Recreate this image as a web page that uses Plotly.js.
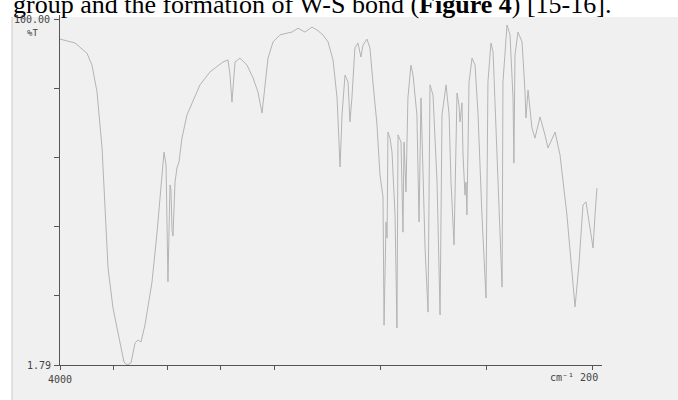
<!DOCTYPE html>
<html>
<head>
<meta charset="utf-8">
<script src="https://cdn.plot.ly/plotly-3.0.1.min.js"></script>
<style>html,body{margin:0;padding:0;background:#fff;}#chart{width:678px;height:400px;}</style>
</head>
<body>
<div id="chart"></div>
<script>
// Wavenumber (cm-1)
const wavenumber = [4000,3860,3748,3701,3654,3607,3579,3551,3505,3439,3402,3374,3364,3336,3299,3271,3243,3206,3140,3093,3047,3028,3009,2991,2972,2963,2953,2944,2925,2907,2888,2860,2813,2738,2692,2598,2477,2430,2411,2393,2383,2364,2318,2252,2196,2150,2112,2084,2056,2009,
1966,1926,1898,1864,1825,1785,1757,1723,1694,1666,1643,1626,1615,1598,1581,1570,1559,1542,1525,1508,1496,1474,1457,1440,1417,1400,1383,1377,1366,1360,1355,1343,1332,1315,1304,1298,1281,1270,1264,1253,1242,1225,1213,1191,1179,1168,1157,1145,1128,1117,1100,1077,1060,1049,1026,1009,998,981,964,953,947,936,930,919,913,908,896,879,862,845,823,800,789,772,760,738,709,704,681,664,647,642,636,619,596,579,574,562,540,523,494,466,449,409,381,342,313,296,274,251,234,223,194,183,172];
// Transmittance (%T)
const transmittance = [94.3,93.2,90.3,86.9,79.3,63.4,46.4,29.3,18.0,7.5,2.6,1.9,1.9,2.4,8.0,8.9,8.3,13.1,25.4,39.5,55.7,62.2,58.6,25.4,52.9,51.5,40.1,38.4,53.7,57.7,59.4,66.2,72.8,78.4,81.3,85.0,87.8,88.4,84.1,76.4,81.3,87.8,88.9,86.9,83.3,79.3,73.3,80.4,88.9,93.5,
95.5,96.0,96.3,97.4,96.3,97.7,96.9,95.5,93.5,88.4,77.6,58.0,72.8,84.1,82.1,70.8,77.6,91.8,93.2,89.2,92.6,94.3,91.8,82.1,69.9,55.7,49.5,13.1,42.4,37.8,67.9,66.2,62.2,44.4,12.3,67.1,65.1,39.5,65.1,50.9,77.6,86.9,84.1,72.8,42.4,77.6,55.7,35.0,16.8,81.3,78.4,53.7,16.0,72.8,81.3,72.8,53.7,35.9,79.0,75.6,70.8,76.2,61.4,50.0,53.7,44.4,82.1,88.9,86.9,72.8,44.4,20.8,82.1,93.2,90.6,63.4,23.9,82.1,98.3,95.5,77.6,59.1,89.8,96.3,93.5,79.3,71.9,79.8,69.1,66.2,72.2,67.1,63.4,67.9,61.4,44.4,28.2,18.3,30.2,47.2,48.1,44.4,35.0,44.4,52.0];

// Axis ticks
const xTicks = [4000,3500,3000,2500,2000,1400,800,200];
const yTicks = [1.79,21.43,41.07,60.72,80.36,100.00];
const yLabelTop = "100.00";
const yLabelBottom = "1.79";
const xLabelLeft = "4000";
const xLabelRight = "cm⁻¹ 200";
const yUnit = "%T";
const headerText = "group and the formation of W-S bond (<b>Figure 4</b>) [15-16].";

// Chart paper uses a change of scale at 2000 cm-1
const SPLIT = 214/532;
function pos(w){
  return w >= 2000 ? (4000 - w)/2000*SPLIT : SPLIT + (2000 - w)/1800*(1 - SPLIT);
}

const mono = {family:'DejaVu Sans Mono, monospace', size:10, color:'#444'};

const trace = {
  x: wavenumber.map(pos),
  y: transmittance,
  type:'scatter', mode:'lines',
  line:{color:'#b4b4b4', width:1},
  hoverinfo:'skip'
};

const layout = {
  width:678, height:400,
  margin:{l:60, r:76, t:15, b:35},
  paper_bgcolor:'#ffffff',
  plot_bgcolor:'rgba(0,0,0,0)',
  showlegend:false,
  xaxis:{
    range:[0, 542/532], showgrid:false, zeroline:false,
    showline:true, linecolor:'#555', linewidth:1,
    ticks:'outside', ticklen:4, tickcolor:'#555', tickwidth:1,
    tickmode:'array', tickvals:xTicks.map(pos), showticklabels:false
  },
  yaxis:{
    range:[1.79, 101.14], showgrid:false, zeroline:false,
    showline:true, linecolor:'#555', linewidth:1,
    ticks:'outside', ticklen:5, tickcolor:'#555', tickwidth:1,
    tickmode:'array', tickvals:yTicks, showticklabels:false
  },
  shapes:[{
    type:'rect', xref:'paper', yref:'paper', layer:'below',
    x0:(12-60)/542, x1:(678-60)/542, y0:-0.1, y1:1-2/350,
    fillcolor:'#f0f0f0', line:{width:0}
  },{
    type:'line', xref:'paper', yref:'paper', layer:'below',
    x0:(12-60)/542, x1:(12-60)/542, y0:-0.1, y1:1-2/350,
    line:{color:'#c8c8c8', width:1}
  }],
  annotations:[
    {text:headerText, xref:'paper', yref:'paper', x:(11-60)/542, y:1-6/350, xanchor:'left', yanchor:'bottom', showarrow:false, font:{family:'Liberation Serif, Times New Roman, serif', size:26, color:'#000'}},
    {text:yLabelTop, xref:'paper', yref:'paper', x:(52-60)/542, y:1-4/350, xanchor:'right', yanchor:'middle', showarrow:false, font:mono},
    {text:yUnit, xref:'paper', yref:'paper', x:(32-60)/542, y:1-17.5/350, xanchor:'center', yanchor:'middle', showarrow:false, font:{family:mono.family, size:9, color:'#444'}},
    {text:yLabelBottom, xref:'paper', yref:'paper', x:(53-60)/542, y:0, xanchor:'right', yanchor:'middle', showarrow:false, font:mono},
    {text:xLabelLeft, xref:'paper', yref:'paper', x:0, y:1-364/350, xanchor:'center', yanchor:'middle', showarrow:false, font:mono},
    {text:xLabelRight, xref:'paper', yref:'paper', x:540/542, y:1-362/350, xanchor:'right', yanchor:'middle', showarrow:false, font:mono}
  ]
};

Plotly.newPlot('chart', [trace], layout, {staticPlot:true, displayModeBar:false});
</script>
</body>
</html>
